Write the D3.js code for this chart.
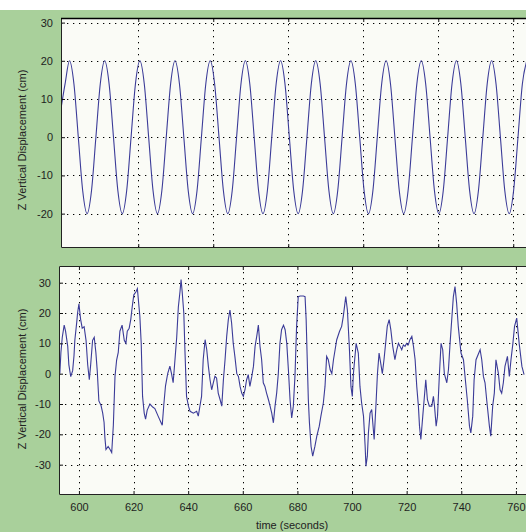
<!DOCTYPE html>
<html lang="en">
<head>
<meta charset="UTF-8">
<title>Z Vertical Displacement</title>
<script src="https://d3js.org/d3.v7.min.js"></script>
<style>
  body { margin: 0; background: #fff; }
  svg { display: block; font-family: "Liberation Sans", Arial, sans-serif; }
  .tick text { font-size: 11px; fill: #1e1e1e; }
  .domain { display: none; }
  .tick line { stroke: #111; }
  .grid line { stroke: #000; stroke-dasharray: 1.3,4.7; }
</style>
</head>
<body>
<script>
// ---- top panel: regular wave, uniform sampling ----
const topStart = -0.675;   // s, first sample
const topStep = 1.1725;    // s between samples
const topZ = [7, 14,
  20, 14, 0, -14, -20, -14, 0, 14,
  20, 14, 0, -14, -20, -14, 0, 14,
  20, 14, 0, -14, -20, -14, 0, 14,
  20, 14, 0, -14, -20, -14, 0, 14,
  20, 14, 0, -14, -20, -14, 0, 14,
  20, 14, 0, -14, -20, -14, 0, 14,
  20, 14, 0, -14, -20, -14, 0, 14,
  20, 14, 0, -14, -20, -14, 0, 14,
  20, 14, 0, -14, -20, -14, 0, 14,
  20, 14, 0, -14, -20, -14, 0, 14,
  20, 14, 0, -14, -20, -14, 0, 14,
  20, 14, 0, -14, -20, -14, 0, 14,
  20, 14, 0, -14, -20, -14, 0, 14,
  20];
const topXTicks = [20, 40, 60, 80, 100, 120];
const topYTicks = [30, 20, 10, 0, -10, -20];

// ---- bottom panel: irregular record ----
const botTime = [593.0, 593.4, 593.9, 594.6, 595.1, 595.9, 596.3, 597.0, 597.7, 598.2,
  598.5, 599.2, 599.5, 600.0, 600.6, 601.2, 601.9, 602.6, 603.2, 603.8,
  604.3, 605.0, 605.6, 606.2, 606.7, 607.3, 608.1, 608.7, 609.2, 609.5,
  609.9, 610.7, 611.4, 612.0, 612.6, 613.2, 613.8, 614.4, 615.0, 615.8,
  616.6, 617.2, 617.7, 618.4, 619.0, 619.5, 620.1, 620.9, 621.4, 622.0,
  622.3, 622.8, 623.3, 623.9, 624.4, 625.0, 626.0, 627.0, 627.8, 629.0,
  630.0, 630.5, 631.1, 631.7, 632.5, 633.3, 633.9, 634.5, 635.2, 635.8,
  636.4, 637.0, 637.4, 637.8, 638.4, 638.8, 639.4, 640.1, 640.7, 641.9,
  643.1, 643.7, 644.3, 644.9, 645.5, 646.2, 646.8, 647.4, 648.0, 648.6,
  649.2, 649.8, 650.4, 651.0, 651.7, 652.3, 652.9, 653.5, 654.1, 654.7,
  655.3, 655.9, 656.5, 657.1, 657.8, 658.4, 659.0, 659.6, 660.2, 660.8,
  661.4, 662.0, 662.6, 663.3, 663.9, 664.5, 665.1, 665.7, 666.3, 666.9,
  667.5, 668.1, 668.7, 669.4, 670.0, 670.6, 671.2, 671.8, 672.4, 673.0,
  673.6, 674.2, 674.9, 675.5, 676.1, 676.7, 677.3, 677.9, 678.5, 679.1,
  679.7, 680.3, 681.0, 682.2, 682.8, 683.2, 684.0, 684.4, 685.0, 685.6,
  686.4, 687.1, 688.0, 688.6, 689.5, 690.1, 690.7, 691.3, 692.0, 692.6,
  693.2, 693.8, 694.4, 695.4, 696.2, 696.8, 697.7, 698.3, 699.0, 699.6,
  700.1, 700.5, 701.5, 702.3, 702.9, 703.5, 704.2, 704.8, 705.1, 705.6,
  706.0, 706.6, 707.2, 708.1, 708.8, 709.3, 709.9, 710.5, 711.1, 711.7,
  712.3, 712.9, 713.6, 714.2, 714.9, 715.7, 716.4, 717.0, 717.6, 718.2,
  718.8, 719.4, 720.0, 720.6, 721.2, 721.9, 722.5, 723.1, 723.7, 724.3,
  724.7, 725.2, 725.9, 726.4, 727.0, 727.6, 728.3, 729.2, 729.8, 730.2,
  730.8, 731.3, 732.0, 732.6, 733.2, 733.8, 734.7, 735.3, 735.9, 736.5,
  737.1, 737.7, 738.3, 738.9, 739.9, 740.8, 741.6, 742.2, 743.0, 743.5,
  744.2, 744.7, 745.4, 746.9, 747.5, 748.1, 748.7, 749.3, 750.3, 750.8,
  751.5, 752.1, 752.7, 753.6, 754.2, 754.8, 755.4, 756.0, 756.9, 757.6,
  758.2, 758.9, 759.5, 760.3, 761.2, 762.2, 763.0];
const botZ = [0, 7, 12, 16, 14, 9, 3, -1, 1, 6,
  11, 17, 20, 23, 18, 15, 15.5, 11, 3, -2,
  3, 11, 12, 7, 1, -9, -10.5, -13, -16, -21,
  -25, -24, -25, -26, -17, -1, 4.5, 7, 14, 16,
  11, 10, 14, 15, 18, 22, 26, 27, 28, 22,
  19, 10, -7.5, -13, -15, -12, -10, -11, -11.5, -14,
  -16, -17, -10, -4, 0, 2.5, 0, -3, 5, 12,
  22, 27, 31, 27, 20, 8, -7.5, -10.7, -12.4, -13,
  -12.4, -14, -10.7, -7.5, 4.6, 11.2, 7.9, 2.4, -2, -5.3,
  -3, -0.9, -1.4, -6.4, -8.6, -10.7, -2, 4.6, 12.3, 17.8,
  21, 16.7, 10, 5.7, 0, -0.9, -4.2, -6.4, -7.5, -5.3,
  -2, -0.3, -4.2, -0.9, 2.4, 9, 12.3, 16, 9, 4.6,
  -3, -4.2, -6.4, -8.6, -10.7, -13, -16.2, -10.7, -6.4, 0,
  10, 14.5, 16, 14.5, 10, 1.3, -8.6, -14.6, -10.7, -0.9,
  15.6, 25.4, 25.6, 25.6, 25.4, 17.8, -8.6, -16.2, -24, -27.2,
  -24, -20.6, -17.3, -14, -9.6, -4.2, 5.7, 4.6, 1.3, 0,
  4.6, 7.9, 11.2, 13.9, 15.6, 18.9, 25.4, 21, 9, -4.2,
  -7.5, 0, 10, 6.8, -4.2, -9.6, -14, -24, -30.5, -27.2,
  -19.5, -13, -11.8, -21.7, -9.6, 0, 6.8, 3.5, 0, 4.6,
  10, 15.6, 17.8, 14.5, 9, 4.6, 7.9, 10, 9, 7.9,
  9.5, 9, 10, 9.5, 11.2, 12.3, 9, 4.6, -4.2, -10.7,
  -17.3, -21.7, -14, -8.6, -2, -8.6, -10.7, -10.7, -7.5, -10.7,
  -17.3, -14, 0, 10, 7.9, 0, -3, 1.3, 10, 17.8,
  25.4, 28.7, 23.2, 15.6, 6.8, 4.6, -3, -8.6, -17.3, -19.5,
  -14, -2, 4.6, 7.9, 4.6, -0.9, -3, -8.6, -17.3, -20.6,
  -10.7, -6.4, 4.6, 0, -5.3, -6.4, -3, 2.4, 5.7, -0.9,
  4.6, 10, 15.6, 18.3, 10, 2.4, -0.3];
const botXTicks = [600, 620, 640, 660, 680, 700, 720, 740, 760];
const botYTicks = [30, 20, 10, 0, -10, -20, -30];

const width = 526, height = 532;
const svg = d3.select("body").append("svg")
  .attr("width", width)
  .attr("height", height);

// green figure background
svg.append("rect")
  .attr("x", 0).attr("y", 10)
  .attr("width", width).attr("height", height - 10)
  .attr("fill", "#a9d09b");

function panel(opts) {
  const { x, y, xTicks, yTicks, data, curve, showXLabels, labelY, id } = opts;
  const [x0, x1] = x.range();
  const [y0, y1] = y.range();   // y0 bottom, y1 top
  const g = svg.append("g");

  g.append("rect")
    .attr("x", x0).attr("y", y1)
    .attr("width", x1 - x0).attr("height", y0 - y1)
    .attr("fill", "#fafbf6");

  // dotted grid
  const grid = g.append("g").attr("class", "grid");
  grid.selectAll(".gx").data(xTicks).enter().append("line")
    .attr("x1", d => Math.round(x(d)) + 0.5).attr("x2", d => Math.round(x(d)) + 0.5)
    .attr("y1", y1).attr("y2", y0);
  grid.selectAll(".gy").data(yTicks).enter().append("line")
    .attr("x1", x0).attr("x2", x1)
    .attr("y1", d => Math.round(y(d)) + 0.5).attr("y2", d => Math.round(y(d)) + 0.5);

  // the trace
  svg.append("clipPath").attr("id", id)
    .append("rect")
    .attr("x", x0).attr("y", y1)
    .attr("width", x1 - x0).attr("height", y0 - y1);

  const line = d3.line()
    .x(d => x(d[0]))
    .y(d => y(d[1]))
    .curve(curve);

  g.append("path")
    .datum(data)
    .attr("clip-path", `url(#${id})`)
    .attr("fill", "none")
    .attr("stroke", "#3b3b98")
    .attr("stroke-width", 1.1)
    .attr("d", line);

  // axes, ticks pointing inward
  g.append("g")
    .attr("transform", `translate(${x0},0)`)
    .call(d3.axisLeft(y).tickValues(yTicks).tickSizeInner(-4).tickSizeOuter(0)
      .tickPadding(8).tickFormat(d => String(d)));

  g.append("g")
    .attr("transform", `translate(0,${y0})`)
    .call(d3.axisBottom(x).tickValues(xTicks).tickSizeInner(-4).tickSizeOuter(0)
      .tickPadding(8).tickFormat(d => showXLabels ? String(d) : ""));

  g.append("g")
    .attr("transform", `translate(0,${y1})`)
    .call(d3.axisTop(x).tickValues(xTicks).tickSizeInner(-4).tickSizeOuter(0)
      .tickFormat(""));

  // frame (right side runs off the picture)
  g.append("path")
    .attr("d", `M${x1},${y1 + 0.5}H${x0 + 0.5}V${y0 - 0.5}H${x1}`)
    .attr("fill", "none")
    .attr("stroke", "#222")
    .attr("stroke-width", 1);

  g.append("text")
    .attr("transform", `translate(22,${labelY}) rotate(-90)`)
    .attr("text-anchor", "middle")
    .attr("dy", "0.35em")
    .attr("font-size", 11)
    .attr("fill", "#222")
    .text("Z Vertical Displacement (cm)");
}

const topX = d3.scaleLinear().domain([-0.6, 123.4]).range([61, 526]);
const topY = d3.scaleLinear().domain([-29, 31.2]).range([248, 18]);
const botX = d3.scaleLinear().domain([592.7, 763.7]).range([59, 526]);
const botY = d3.scaleLinear().domain([-40, 35.5]).range([495, 266]);

panel({
  x: topX, y: topY, xTicks: topXTicks, yTicks: topYTicks,
  data: topZ.map((v, i) => [topStart + i * topStep, v]),
  curve: d3.curveMonotoneX, showXLabels: false, labelY: 140, id: "clipTop"
});

panel({
  x: botX, y: botY, xTicks: botXTicks, yTicks: botYTicks,
  data: botTime.map((t, i) => [t, botZ[i]]),
  curve: d3.curveLinear, showXLabels: true, labelY: 379, id: "clipBot"
});

// heavier top edge of the upper axes
svg.append("line")
  .attr("x1", 61).attr("x2", 526)
  .attr("y1", 18.5).attr("y2", 18.5)
  .attr("stroke", "#000").attr("stroke-width", 1.6);

svg.append("text")
  .attr("x", 292).attr("y", 529)
  .attr("text-anchor", "middle")
  .attr("font-size", 11)
  .attr("fill", "#222")
  .text("time (seconds)");
</script>
</body>
</html>
